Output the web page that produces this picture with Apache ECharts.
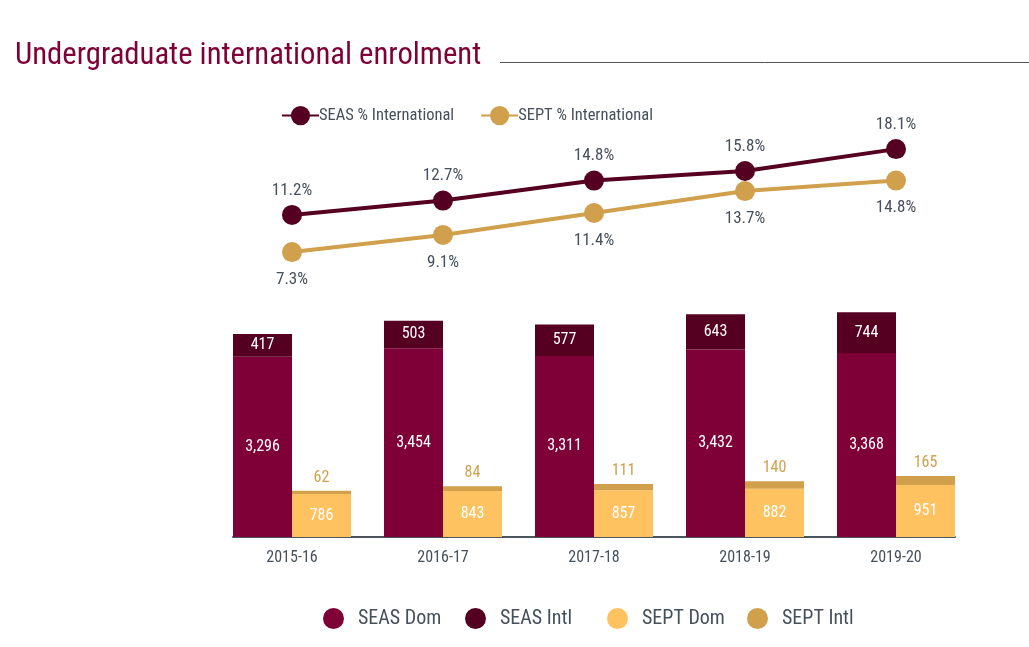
<!DOCTYPE html>
<html>
<head>
<meta charset="utf-8">
<script src="https://cdn.jsdelivr.net/npm/echarts@6/dist/echarts.min.js"></script>
<style>html,body{margin:0;padding:0;background:#fff}#c{width:1029px;height:647px}</style>
</head>
<body>
<div id="c"></div>
<script>
var categories = ['2015-16', '2016-17', '2017-18', '2018-19', '2019-20'];
var seasPctIntl = [11.2, 12.7, 14.8, 15.8, 18.1];
var septPctIntl = [7.3, 9.1, 11.4, 13.7, 14.8];
var seasDom = [3296, 3454, 3311, 3432, 3368];
var seasIntl = [417, 503, 577, 643, 744];
var septDom = [786, 843, 857, 882, 951];
var septIntl = [62, 84, 111, 140, 165];
var barNames = ['SEAS Dom', 'SEAS Intl', 'SEPT Dom', 'SEPT Intl'];

var FONT = 'Roboto, "Open Sans", sans-serif';
var STRETCH = 'condensed';
var GRAY = '#45505c';
var C_SEAS_DOM = '#7f0037', C_SEAS_INTL = '#550020', C_SEPT_DOM = '#fec360', C_SEPT_INTL = '#d0a04d';

var chart = echarts.init(document.getElementById('c'), null, {renderer: 'canvas'});
var fmt = function (p) { return p.value.toLocaleString('en-US'); };
function ts(size, color) {
  return {fontFamily: FONT, fontWeight: STRETCH, fontSize: size, color: color};
}
var legendLefts = [318, 460, 602, 742];
var bottomLegends = barNames.map(function (n, i) {
  return {
    data: [n], left: legendLefts[i], top: 603, icon: 'circle', itemWidth: 21, itemHeight: 23,
    textStyle: Object.assign(ts(20, GRAY), {padding: [0, 0, 0, 9]})
  };
});

chart.setOption({
  animation: false,
  textStyle: {fontFamily: FONT, fontWeight: STRETCH},
  title: {
    text: 'Undergraduate international enrolment',
    left: 15, top: 41, padding: 0,
    textStyle: ts(30.7, C_SEAS_DOM)
  },
  graphic: [{
    type: 'line', shape: {x1: 500, y1: 62.5, x2: 1029, y2: 62.5},
    style: {stroke: '#555', lineWidth: 1}
  }],
  legend: [{
    data: ['SEAS % International', 'SEPT % International'],
    left: 276, top: 101, itemWidth: 37, itemHeight: 24, itemGap: 26,
    textStyle: Object.assign(ts(16.5, GRAY), {padding: [0, 0, 0, -5]})
  }].concat(bottomLegends),
  grid: [
    {left: 216.5, right: 57.5, top: 131, height: 143},
    {left: 216.5, right: 57.5, top: 291, bottom: 110},
    {left: 233, right: 74, top: 291, bottom: 110}
  ],
  xAxis: [
    {type: 'category', gridIndex: 0, data: categories, show: false},
    {type: 'category', gridIndex: 1, data: categories,
      axisLine: {show: false}, axisTick: {show: false},
      axisLabel: Object.assign(ts(16, GRAY), {margin: 13})},
    {type: 'category', gridIndex: 2, data: categories,
      axisLine: {show: true, lineStyle: {color: '#4a5560', width: 2}}, axisTick: {show: false},
      axisLabel: {show: false}}
  ],
  yAxis: [
    {type: 'value', gridIndex: 0, min: 5, max: 20, show: false},
    {type: 'value', gridIndex: 1, min: 0, max: 4500, show: false},
    {type: 'value', gridIndex: 2, min: 0, max: 4500, show: false}
  ],
  series: [
    {name: 'SEAS % International', type: 'line', xAxisIndex: 0, yAxisIndex: 0, data: seasPctIntl,
      symbol: 'circle', symbolSize: 20, lineStyle: {width: 4, color: C_SEAS_INTL},
      itemStyle: {color: C_SEAS_INTL},
      label: Object.assign(ts(17, GRAY), {show: true, position: 'top', distance: 6, formatter: '{c}%'})},
    {name: 'SEPT % International', type: 'line', xAxisIndex: 0, yAxisIndex: 0, data: septPctIntl,
      symbol: 'circle', symbolSize: 20, lineStyle: {width: 4, color: C_SEPT_INTL},
      itemStyle: {color: C_SEPT_INTL},
      label: Object.assign(ts(17, GRAY), {show: true, position: 'bottom', distance: 9, formatter: '{c}%'})},
    {name: barNames[0], type: 'bar', xAxisIndex: 1, yAxisIndex: 1, stack: 'seas', data: seasDom,
      barWidth: 59, barGap: '0%', itemStyle: {color: C_SEAS_DOM},
      label: Object.assign(ts(16, '#fff'), {show: true, position: 'inside', formatter: fmt})},
    {name: barNames[1], type: 'bar', xAxisIndex: 1, yAxisIndex: 1, stack: 'seas', data: seasIntl,
      barWidth: 59, barGap: '0%', itemStyle: {color: C_SEAS_INTL},
      label: Object.assign(ts(16, '#fff'), {show: true, position: 'inside', formatter: fmt})},
    {name: barNames[2], type: 'bar', xAxisIndex: 1, yAxisIndex: 1, stack: 'sept', data: septDom,
      barWidth: 59, barGap: '0%', itemStyle: {color: C_SEPT_DOM},
      label: Object.assign(ts(16, '#fff'), {show: true, position: 'inside', formatter: fmt})},
    {name: barNames[3], type: 'bar', xAxisIndex: 1, yAxisIndex: 1, stack: 'sept', data: septIntl,
      barWidth: 59, barGap: '0%', itemStyle: {color: C_SEPT_INTL},
      label: Object.assign(ts(16, C_SEPT_INTL), {show: true, position: 'top', distance: 5, formatter: fmt})}
  ]
});
</script>
</body>
</html>
